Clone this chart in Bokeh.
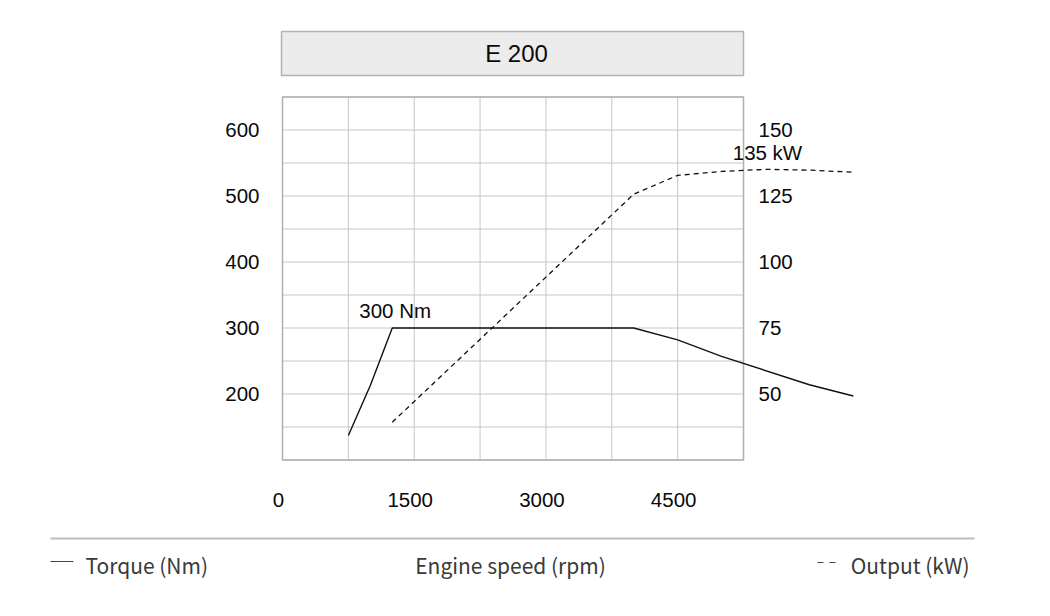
from bokeh.plotting import figure
from bokeh.models import Range1d
from bokeh.core.properties import value
from bokeh.embed import file_html
from bokeh.resources import INLINE

# ---------------- data ----------------
title = "E 200"
rpm_ticks = [0, 1500, 3000, 4500]
torque_ticks = [200, 300, 400, 500, 600]
output_ticks = [50, 75, 100, 125, 150]
grid_rpm = [0, 750, 1500, 2250, 3000, 3750, 4500, 5250]
grid_nm = [100, 150, 200, 250, 300, 350, 400, 450, 500, 550, 600, 650]

torque_rpm = [750, 1000, 1250, 4000, 4500, 5000, 6000, 6500]
torque_nm = [137, 213, 300, 300, 282, 257, 214, 197]

output_rpm = [1250, 4000, 4500, 5000, 5500, 6000, 6500]
output_kw = [39.3, 125.7, 132.8, 134.3, 135.1, 134.8, 134.0]

legend_left = "Torque (Nm)"
legend_mid = "Engine speed (rpm)"
legend_right = "Output (kW)"

# ---------------- layout helpers ----------------
W, H = 1034, 600
PAD = 0                     # page offset of the canvas
SX = 65.86 / 750.0          # px per rpm
SY = 0.66                   # px per Nm
X0 = -(282 - PAD) / SX      # rpm at canvas left
YT = 650 + (96.5 - PAD) / SY  # Nm at canvas top
KW = 4.0                    # Nm per kW on the paired axes


def X(px):
    return X0 + (px - PAD) / SX


def Y(py):
    return YT - (py - PAD) / SY


p = figure(width=W, height=H, output_backend="svg", toolbar_location=None,
           x_range=Range1d(X(PAD), X(PAD + W)),
           y_range=Range1d(Y(PAD + H), Y(PAD)),
           x_axis_location=None, y_axis_location=None, min_border=0)
p.extra_y_ranges = {"kw": Range1d(Y(PAD + H) / KW, Y(PAD) / KW)}
p.grid.visible = False
p.outline_line_color = None
p.background_fill_color = "white"
p.border_fill_color = "white"

NUM_FONT = value("Liberation Sans")
TXT_FONT = value("Noto Sans CJK JP")
NUM_SIZE = "20.5px"

# title box
p.quad(left=[X(281)], right=[X(743)], top=[Y(31)], bottom=[Y(75)],
       fill_color="#ececec", line_color="#b3b3b3", line_width=1.5)
p.text(x=[X(516)], y=[Y(53)], text=[title], text_align="center",
       text_baseline="middle", text_font=NUM_FONT, text_font_size="24px",
       text_color="#0a0a0a")

# grid
p.multi_line(xs=[[r, r] for r in grid_rpm],
             ys=[[grid_nm[0], grid_nm[-1]] for _ in grid_rpm],
             line_color="#c6c6c6", line_width=1)
p.multi_line(xs=[[grid_rpm[0], grid_rpm[-1]] for _ in grid_nm],
             ys=[[n, n] for n in grid_nm],
             line_color="#c6c6c6", line_width=1)
p.quad(left=[grid_rpm[0]], right=[grid_rpm[-1]], top=[grid_nm[-1]],
       bottom=[grid_nm[0]], fill_color=None, line_color="#b0b0b0",
       line_width=1.5)

# tick labels
p.text(x=[X(259)] * len(torque_ticks), y=torque_ticks,
       text=[str(t) for t in torque_ticks], text_align="right",
       text_baseline="middle", text_font=NUM_FONT, text_font_size=NUM_SIZE,
       text_color="#0a0a0a")
p.text(x=[X(758)] * len(output_ticks), y=output_ticks,
       text=[str(t) for t in output_ticks], text_align="left",
       text_baseline="middle", text_font=NUM_FONT, text_font_size=NUM_SIZE,
       text_color="#0a0a0a", y_range_name="kw")
p.text(x=rpm_ticks, y=[Y(499)] * len(rpm_ticks),
       text=[str(t) for t in rpm_ticks], x_offset=-4, text_align="center",
       text_baseline="middle", text_font=NUM_FONT, text_font_size=NUM_SIZE,
       text_color="#0a0a0a")

# data lines
p.line(torque_rpm, torque_nm, line_color="#111111", line_width=1.4)
p.line(output_rpm, output_kw, y_range_name="kw", line_color="#111111",
       line_width=1.3, line_dash="5 4")

# annotations
imax_t = torque_nm.index(max(torque_nm))
p.text(x=[torque_rpm[imax_t]], y=[torque_nm[imax_t]],
       text=[f"{max(torque_nm)} Nm"], x_offset=-33, y_offset=-18,
       text_align="left", text_baseline="middle", text_font=NUM_FONT,
       text_font_size=NUM_SIZE, text_color="#0a0a0a")
imax_o = output_kw.index(max(output_kw))
p.text(x=[output_rpm[imax_o]], y=[output_kw[imax_o]],
       text=[f"{round(max(output_kw))} kW"], x_offset=2, y_offset=-17,
       text_align="center", text_baseline="middle", text_font=NUM_FONT,
       text_font_size=NUM_SIZE, text_color="#0a0a0a", y_range_name="kw")

# bottom separator and legend
p.line([X(50), X(974)], [Y(538), Y(538)], line_color="#bdbdbd", line_width=2)
p.line([X(50), X(73)], [Y(561), Y(561)], line_color="#444444", line_width=1)
p.multi_line(xs=[[X(817), X(823)], [X(829), X(835)]],
             ys=[[Y(562), Y(562)], [Y(562), Y(562)]],
             line_color="#444444", line_width=1)
p.text(x=[X(85)], y=[Y(564)], text=[legend_left], text_align="left",
       text_baseline="middle", text_font=TXT_FONT, text_font_size="21px",
       text_color="#3a3a3a")
p.text(x=[X(510)], y=[Y(564)], text=[legend_mid], text_align="center",
       text_baseline="middle", text_font=TXT_FONT, text_font_size="21px",
       text_color="#3a3a3a")
p.text(x=[X(969)], y=[Y(564)], text=[legend_right], text_align="right",
       text_baseline="middle", text_font=TXT_FONT, text_font_size="21px",
       text_color="#3a3a3a")

open("out.html", "w").write(file_html(p, INLINE))
